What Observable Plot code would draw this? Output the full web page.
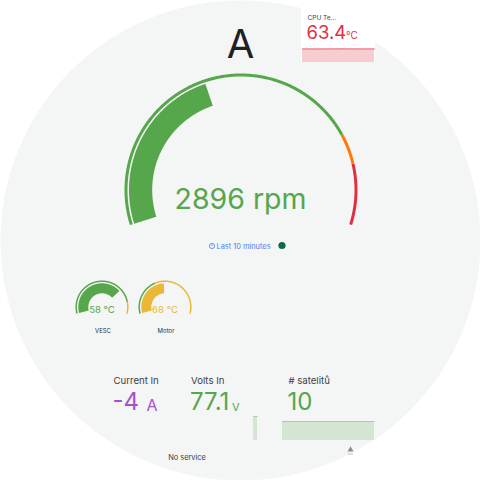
<!DOCTYPE html>
<html>
<head>
<meta charset="utf-8">
<script src="https://cdn.jsdelivr.net/npm/d3@7"></script>
<script src="https://cdn.jsdelivr.net/npm/@observablehq/plot@0.6"></script>
<style>
  html, body { margin: 0; padding: 0; background: #ffffff; }
  #board { position: relative; width: 480px; height: 480px; overflow: hidden; }
  #board > svg { position: absolute; display: block; }
</style>
</head>
<body>
<div id="board"></div>
<script>
// ---- Engine speed gauge ----
const rpmTitle = "A";
const rpmValue = 2896;
const rpmUnit = "rpm";
const rpmRange = [0, 7000];
const rpmSteps = [0, 5500, 6000];
const rpmStepColors = ["#56a64b", "#ff780a", "#e02f44"];
const timeRangeLabel = "Last 10 minutes";

// ---- Temperature gauges ----
const tempNames = ["VESC", "Motor"];
const tempValues = [58, 68];
const tempUnit = "°C";
const tempRanges = [[0, 80], [0, 140]];
const tempSteps = [[0, 70], [0, 55]];
const tempStepColors = ["#56a64b", "#eab839"];

// ---- Stat panels ----
const statLabels = ["Current In", "Volts In", "# satelitů"];
const statValues = [-4, 77.1, 10];
const statUnits = ["A", "V", ""];
const statColors = ["#a352cc", "#56a64b", "#56a64b"];

// Sparkline samples over the last 10 minutes
const voltsMinutes = [9.45, 9.7, 10];
const voltsSeries = [77.1, 77.1, 77.1];
const satMinutes = [0, 1, 2, 3, 4, 5, 6, 7, 8, 9, 10];
const satSeries = [10, 10, 10, 10, 10, 10, 10, 10, 10, 10, 10];

// ---- CPU temperature ----
const cpuLabel = "CPU Te…";
const cpuValue = 63.4;
const cpuMinutes = [0, 0.5, 1, 1.5, 2, 2.5, 3, 3.5, 4, 4.5, 5, 5.5, 6, 6.5, 7, 7.5, 8, 8.5, 9, 9.5, 10];
const cpuSeries = [63.1, 63.6, 63.2, 63.4, 63.0, 63.5, 63.3, 63.2, 63.6, 63.7, 63.5, 63.8, 63.6, 63.4, 63.7, 63.3, 63.5, 63.2, 63.6, 63.3, 63.4];

const statusText = "No service";

// ---- colours / fonts ----
const FONT = "Inter, 'Noto Sans', sans-serif";
const BG = "#f4f5f5";

const board = document.getElementById("board");

// Geometry helpers: angles in degrees, clockwise from 12 o'clock
function polar(cx, cy, r, deg) {
  const a = deg * Math.PI / 180;
  return {x: cx + r * Math.sin(a), y: cy - r * Math.cos(a)};
}
function arcPoints(cx, cy, r, d0, d1, key, color) {
  const n = Math.max(2, Math.ceil(Math.abs(d1 - d0) / 0.5));
  return d3.range(n + 1).map(i => ({...polar(cx, cy, r, d0 + (d1 - d0) * i / n), key, color}));
}

// Gauge marks: a thin threshold ring outside a thick value arc
function gaugeMarks({cx, cy, half, rThin, wThin, rBar, wBar, range, steps, colors, value}) {
  const angle = d3.scaleLinear(range, [-half, half]).clamp(true);
  const ring = steps.flatMap((s, i) =>
    arcPoints(cx, cy, rThin, angle(s), angle(i + 1 < steps.length ? steps[i + 1] : range[1]), i, colors[i]));
  const idx = d3.bisectRight(steps, value) - 1;
  const barColor = colors[Math.max(0, idx)];
  const bar = arcPoints(cx, cy, rBar, angle(range[0]), angle(value), 0, barColor);
  return {
    color: barColor,
    marks: [
      Plot.line(ring, {x: "x", y: "y", z: "key", stroke: "color", strokeWidth: wThin, strokeLinecap: "butt"}),
      Plot.line(bar, {x: "x", y: "y", stroke: "color", strokeWidth: wBar, strokeLinecap: "butt"})
    ]
  };
}

function label(text, x, y, size, fill, opts = {}) {
  return Plot.text([text], {
    x: () => x, y: () => y, text: d => d,
    fontSize: size, fill, fontFamily: FONT,
    textAnchor: opts.anchor || "middle",
    lineAnchor: "bottom",
    fontWeight: opts.weight || 400,
    fillOpacity: opts.opacity ?? 1
  });
}

const fmt = v => (v < 0 ? "-" : "") + d3.format("")(Math.abs(v));

// Main gauge
const main = gaugeMarks({
  cx: 240.5, cy: 189.5, half: 107.5,
  rThin: 115, wThin: 3, rBar: 100.4, wBar: 23.2,
  range: rpmRange, steps: rpmSteps, colors: rpmStepColors, value: rpmValue
});

// Small gauges
const gaugeCx = [101.5, 164.5];
const small = tempNames.map((name, i) => gaugeMarks({
  cx: gaugeCx[i], cy: 306.5, half: 105,
  rThin: 25.8, wThin: 1.5, rBar: 18.7, wBar: 10,
  range: tempRanges[i], steps: tempSteps[i], colors: tempStepColors, value: tempValues[i]
}));

const marks = [
  // round display face
  Plot.dot([0], {x: () => 240, y: () => 240, r: 240, fill: BG}),
  // CPU temperature panel backdrop
  Plot.rect([0], {x1: () => 301, x2: () => 375, y1: () => 0, y2: () => 62, fill: "#ffffff"}),
  ...main.marks,
  label(rpmTitle, 240, 57, 40, "#1f2023"),
  label(`${rpmValue} ${rpmUnit}`, 240, 208, 28.5, main.color),
  // time range with clock icon and status dot
  Plot.dot([0], {x: () => 211.5, y: () => 245.5, r: 2.6, stroke: "#5d8ef0", strokeWidth: 0.9, fill: "none"}),
  Plot.link([0], {x1: () => 211.5, y1: () => 243.8, x2: () => 211.5, y2: () => 245.7, stroke: "#5d8ef0", strokeWidth: 0.8}),
  label(timeRangeLabel, 216, 248.5, 7.4, "#4f82ea", {anchor: "start"}),
  Plot.dot([0], {x: () => 281.5, y: () => 245, r: 3.6, fill: "#0b6b43"}),
  ...small.flatMap(g => g.marks),
  ...tempNames.flatMap((name, i) => [
    label(`${tempValues[i]} ${tempUnit}`, gaugeCx[i], 312.8, 9.6, small[i].color),
    label(name, gaugeCx[i] + 1, 332, 6, "#2f3337")
  ]),
  // stat panels
  ...statLabels.flatMap((lab, i) => {
    const x0 = [113, 190.5, 288][i];
    const valueText = fmt(statValues[i]);
    const unitX = [146, 231.5, 0][i];
    return [
      label(lab, x0, 383.5, 9.6, "#3c4046", {anchor: "start"}),
      label(valueText, x0 - 1, 409.5, 24, statColors[i], {anchor: "start"}),
      ...(statUnits[i] ? [label(statUnits[i], unitX, 410.5, [16, 11][i], statColors[i], {anchor: "start"})] : [])
    ];
  }),
  // CPU temperature text
  label(cpuLabel, 307, 19, 6.5, "#3c4046", {anchor: "start"}),
  label(d3.format(".1f")(cpuValue), 306, 38.5, 18.5, "#e02f44", {anchor: "start"}),
  label(tempUnit, 345.5, 38, 10, "#e02f44", {anchor: "start"}),
  // footer
  label(statusText, 186.5, 459, 7.4, "#3c4046"),
  Plot.dot([0], {x: () => 350, y: () => 449.2, r: 2.2, symbol: "triangle", fill: "#8a8d91"}),
  Plot.link([0], {x1: () => 347.5, y1: () => 453.5, x2: () => 352.5, y2: () => 453.5, stroke: "#b0b3b6", strokeWidth: 0.8})
];

const face = Plot.plot({
  width: 480, height: 480, margin: 0,
  x: {domain: [0, 480], range: [0, 480], axis: null},
  y: {domain: [0, 480], range: [0, 480], axis: null},
  color: {type: "identity"},
  style: {background: "#ffffff", fontFamily: FONT},
  marks
});
face.style.left = "0px"; face.style.top = "0px";
board.appendChild(face);

// Sparklines, each in its own small plot
function spark({minutes, series, left, top, width, height, yDomain, color, fillOpacity, lineOpacity}) {
  const data = minutes.map((m, i) => ({m, v: series[i]}));
  const svg = Plot.plot({
    width, height, margin: 0,
    x: {domain: [0, 10], axis: null},
    y: {domain: yDomain, axis: null},
    style: {background: "transparent", overflow: "visible"},
    marks: [
      Plot.areaY(data, {x: "m", y: "v", fill: color, fillOpacity}),
      Plot.lineY(data, {x: "m", y: "v", stroke: color, strokeWidth: 1, strokeOpacity: lineOpacity})
    ]
  });
  svg.style.left = left + "px"; svg.style.top = top + "px";
  board.appendChild(svg);
}

spark({minutes: cpuMinutes, series: cpuSeries, left: 301.5, top: 48, width: 72, height: 14,
       yDomain: [0, 65.5], color: "#e02f44", fillOpacity: 0.24, lineOpacity: 0.7});
spark({minutes: voltsMinutes, series: voltsSeries, left: 183, top: 416, width: 74, height: 24,
       yDomain: [0, 77.1], color: "#56a64b", fillOpacity: 0.2, lineOpacity: 0.3});
spark({minutes: satMinutes, series: satSeries, left: 282, top: 421, width: 92, height: 19,
       yDomain: [0, 10], color: "#56a64b", fillOpacity: 0.2, lineOpacity: 0.35});
</script>
</body>
</html>
